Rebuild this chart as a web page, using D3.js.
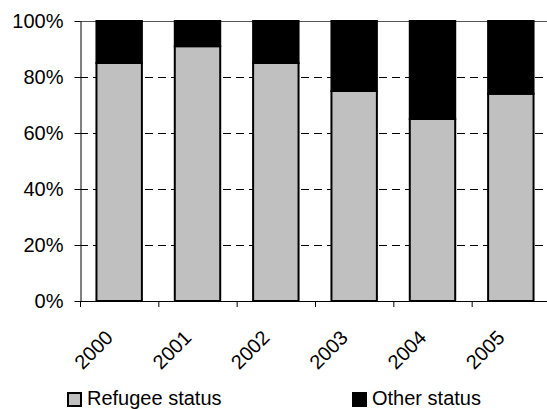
<!DOCTYPE html>
<html>
<head>
<meta charset="utf-8">
<script src="https://cdn.jsdelivr.net/npm/d3@7"></script>
<style>
  html, body { margin: 0; padding: 0; background: #fff; }
  svg { display: block; font-family: Arial, "Liberation Sans", sans-serif; }
</style>
</head>
<body>
<svg id="chart" width="547" height="409"></svg>
<script>
// Share of decisions by year (percent)
const years = ["2000", "2001", "2002", "2003", "2004", "2005"];
const refugeeStatus = [85, 91, 85, 75, 65, 74];
const otherStatus = [15, 9, 15, 25, 35, 26];
const yTicks = [0, 20, 40, 60, 80, 100];
const seriesNames = ["Refugee status", "Other status"];
const seriesColors = ["#c0c0c0", "#000000"];

const svg = d3.select("#chart");
const plotLeft = 80, plotRight = 550, plotTop = 21, plotBottom = 301;

const x = d3.scaleBand().domain(years).range([plotLeft, plotRight]).paddingInner(0.42).paddingOuter(0.21);
const xEdges = d3.scaleBand().domain(years).range([plotLeft, plotRight]);
const y = d3.scaleLinear().domain([0, 100]).range([plotBottom, plotTop]);

const rows = years.map((yr, i) => ({ year: yr, refugee: refugeeStatus[i], other: otherStatus[i] }));
const stacked = d3.stack().keys(["refugee", "other"])(rows);

// Horizontal gridlines
svg.append("g").selectAll("line")
  .data(yTicks.filter(t => t > 0))
  .join("line")
  .attr("x1", plotLeft).attr("x2", plotRight)
  .attr("y1", d => y(d) + 0.5).attr("y2", d => y(d) + 0.5)
  .attr("stroke", d => d === 100 ? "#555" : "#000")
  .attr("stroke-width", 1)
  .attr("stroke-dasharray", d => d === 100 ? null : "8,5");

// Stacked bars
svg.append("g").selectAll("g")
  .data(stacked)
  .join("g")
  .attr("fill", (d, i) => seriesColors[i])
  .selectAll("rect")
  .data(d => d)
  .join("rect")
  .attr("x", d => x(d.data.year))
  .attr("width", x.bandwidth())
  .attr("y", d => y(d[1]))
  .attr("height", d => y(d[0]) - y(d[1]))
  .attr("stroke", "#000")
  .attr("stroke-width", 2);

// Y axis
const yAxis = svg.append("g")
  .attr("transform", `translate(${plotLeft + 0.5},0)`)
  .call(d3.axisLeft(y).tickValues(yTicks).tickFormat(d => d + "%").tickSize(6).tickSizeOuter(0));
yAxis.select(".domain").attr("stroke", "#000");
yAxis.selectAll(".tick line").attr("stroke", "#000");
yAxis.selectAll(".tick text")
  .attr("x", -17)
  .attr("font-size", 20)
  .attr("font-family", "Arial, 'Liberation Sans', sans-serif")
  .attr("fill", "#000");

// X axis line with ticks at category boundaries
const xa = svg.append("g");
xa.append("line")
  .attr("x1", plotLeft).attr("x2", plotRight)
  .attr("y1", plotBottom + 0.5).attr("y2", plotBottom + 0.5)
  .attr("stroke", "#000");
xa.selectAll("line.tk")
  .data(years)
  .join("line")
  .attr("class", "tk")
  .attr("x1", d => xEdges(d) + 0.5).attr("x2", d => xEdges(d) + 0.5)
  .attr("y1", plotBottom).attr("y2", plotBottom + 6)
  .attr("stroke", "#000");

// Rotated year labels
xa.selectAll("text")
  .data(years)
  .join("text")
  .attr("text-anchor", "end")
  .attr("font-size", 20)
  .attr("fill", "#000")
  .attr("transform", d => `translate(${xEdges(d) + xEdges.bandwidth() / 2 - 5},${plotBottom + 38}) rotate(-45)`)
  .text(d => d);

// Legend
const legendX = [67, 352];
const legend = svg.append("g").selectAll("g")
  .data(seriesNames)
  .join("g")
  .attr("transform", (d, i) => `translate(${legendX[i]},392)`);
legend.append("rect")
  .attr("x", 1).attr("y", 1)
  .attr("width", 13).attr("height", 13)
  .attr("fill", (d, i) => seriesColors[i])
  .attr("stroke", "#000").attr("stroke-width", 2);
legend.append("text")
  .attr("x", 20).attr("y", 13)
  .attr("font-size", 20)
  .attr("fill", "#000")
  .text(d => d);
</script>
</body>
</html>
